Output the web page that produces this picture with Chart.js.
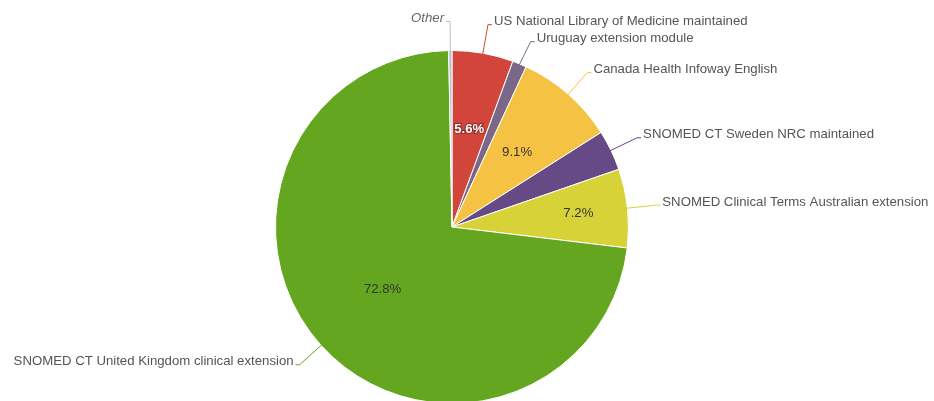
<!DOCTYPE html>
<html lang="en">
<head>
    <meta charset="UTF-8">
    <title>SNOMED CT extensions</title>
    <script src="https://cdn.jsdelivr.net/npm/chart.js"></script>
    <style>
        body {
            margin: 0;
            padding: 0;
            background: #ffffff;
            overflow: hidden;
        }

        /* a bit taller than the window: the pie is cut at the bottom edge */
        .chart-box {
            position: relative;
            width: 934px;
            height: 404px;
        }
    </style>
</head>
<body>
    <div class="chart-box">
        <canvas id="pieChart"></canvas>
    </div>

    <script>
        // Slices, clockwise from 12 o'clock
        const labels = [
            'US National Library of Medicine maintained',
            'Uruguay extension module',
            'Canada Health Infoway English',
            'SNOMED CT Sweden NRC maintained',
            'SNOMED Clinical Terms Australian extension',
            'SNOMED CT United Kingdom clinical extension',
            'Other'
        ];
        const shares = [5.6, 1.3, 9.1, 3.7, 7.2, 72.8, 0.3];
        const colors = ['#d2453a', '#7b6888', '#f5c243', '#664a85', '#d8d239', '#65a620', '#b9c2cc'];

        // Style of the labels
        const FONT = '13.2px "Liberation Sans", Arial, sans-serif';
        const insideMin = 5;           // only slices above this get a % label
        const insideRadius = [0.56, 0.56, 0.56, 0.56, 0.72, 0.53, 0.56];
        const insideColor = ['#ffffff', '#333333', '#333333', '#333333', '#333333', '#333333', '#333333'];
        const labelGap = 17;           // min vertical distance between outside labels

        const labelPlugin = {
            id: 'pieLabels',
            afterDatasetsDraw(chart) {
                const ctx = chart.ctx;
                const arcs = chart.getDatasetMeta(0).data;

                // work out label anchors first, then push overlapping ones apart
                const items = arcs.map((arc, i) => {
                    const p = arc.getProps(['x', 'y', 'startAngle', 'endAngle', 'outerRadius'], true);
                    const mid = (p.startAngle + p.endAngle) / 2;
                    const cos = Math.cos(mid), sin = Math.sin(mid);
                    const r = p.outerRadius;
                    return {
                        i, p, cos, sin, r,
                        right: cos >= 0,
                        ex: p.x + cos * (r - 2), ey: p.y + sin * (r - 2),
                        ax: p.x + cos * (r + 29), ay: p.y + sin * (r + 29)
                    };
                });
                [true, false].forEach(side => {
                    const group = items.filter(it => it.right === side).sort((a, b) => a.ay - b.ay);
                    for (let k = 1; k < group.length; k++) {
                        if (group[k].ay < group[k - 1].ay + labelGap) group[k].ay = group[k - 1].ay + labelGap;
                    }
                });

                ctx.save();
                ctx.textBaseline = 'middle';
                items.forEach(it => {
                    const i = it.i;
                    const bx = it.ax + (it.right ? 4 : -4);
                    ctx.strokeStyle = colors[i];
                    ctx.lineWidth = 1;
                    ctx.beginPath();
                    ctx.moveTo(it.ex, it.ey);
                    ctx.lineTo(it.ax, it.ay);
                    ctx.lineTo(bx, it.ay);
                    ctx.stroke();

                    const isOther = labels[i] === 'Other';
                    ctx.font = (isOther ? 'italic ' : '') + FONT;
                    ctx.fillStyle = isOther ? '#666666' : '#555555';
                    ctx.textAlign = it.right ? 'left' : 'right';
                    ctx.fillText(labels[i], bx + (it.right ? 2 : -2), it.ay - 3);

                    // percentage inside the slice
                    if (shares[i] > insideMin) {
                        const rr = it.r * insideRadius[i];
                        const tx = it.p.x + it.cos * rr, ty = it.p.y + it.sin * rr;
                        const txt = shares[i].toFixed(1) + '%';
                        ctx.textAlign = 'center';
                        if (insideColor[i] === '#ffffff') {
                            ctx.font = 'bold ' + FONT;
                            ctx.strokeStyle = 'rgba(0,0,0,0.35)';
                            ctx.lineWidth = 2;
                            ctx.strokeText(txt, tx, ty);
                        } else {
                            ctx.font = FONT;
                        }
                        ctx.fillStyle = insideColor[i];
                        ctx.fillText(txt, tx, ty);
                    }
                });
                ctx.restore();
            }
        };

        new Chart(document.getElementById('pieChart').getContext('2d'), {
            type: 'pie',
            data: {
                labels: labels,
                datasets: [{
                    data: shares,
                    backgroundColor: colors,
                    borderColor: '#ffffff',
                    borderWidth: 1
                }]
            },
            options: {
                responsive: true,
                maintainAspectRatio: false,
                animation: false,
                layout: {
                    padding: { top: 50, right: 30, bottom: 0, left: 0 }
                },
                plugins: {
                    legend: { display: false },
                    tooltip: { enabled: false }
                }
            },
            plugins: [labelPlugin]
        });
    </script>
</body>
</html>
